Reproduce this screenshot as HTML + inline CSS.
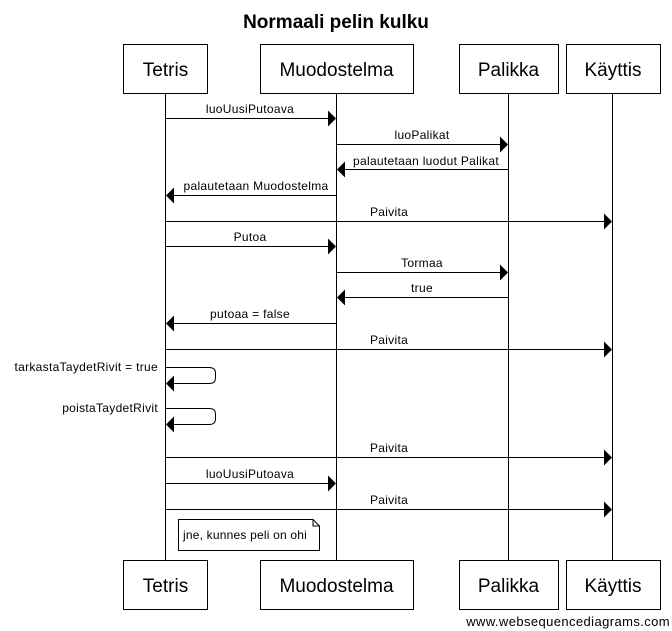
<!DOCTYPE html>
<html><head><meta charset="utf-8"><style>body{margin:0;background:#fff}svg{display:block}</style></head><body>
<svg width="672" height="631" xmlns="http://www.w3.org/2000/svg" font-family="Liberation Sans, Arial, sans-serif">
<rect width="672" height="631" fill="#fff"/>
<text x="336" y="28" text-anchor="middle" font-size="19" font-weight="bold">Normaali pelin kulku</text>
<g stroke="#000" stroke-width="1" fill="#fff">
<line x1="165.5" y1="94" x2="165.5" y2="560"/>
<line x1="336.5" y1="94" x2="336.5" y2="560"/>
<line x1="508.5" y1="94" x2="508.5" y2="560"/>
<line x1="612.5" y1="94" x2="612.5" y2="560"/>
<rect x="123.5" y="44.5" width="84" height="49"/>
<rect x="260.5" y="44.5" width="153" height="49"/>
<rect x="459.5" y="44.5" width="99" height="49"/>
<rect x="566.5" y="44.5" width="94" height="49"/>
<rect x="123.5" y="560.5" width="84" height="49"/>
<rect x="260.5" y="560.5" width="153" height="49"/>
<rect x="459.5" y="560.5" width="99" height="49"/>
<rect x="566.5" y="560.5" width="94" height="49"/>
</g>
<g font-size="19" text-anchor="middle">
<text x="165.5" y="76">Tetris</text><text x="336.5" y="76">Muodostelma</text><text x="508.5" y="76">Palikka</text><text x="613" y="76">Käyttis</text>
<text x="165.5" y="592">Tetris</text><text x="336.5" y="592">Muodostelma</text><text x="508.5" y="592">Palikka</text><text x="613" y="592">Käyttis</text>
</g>
<g stroke="#000" fill="none">
<line x1="165" y1="118.5" x2="329" y2="118.5"/>
<line x1="337" y1="144.5" x2="501" y2="144.5"/>
<line x1="344" y1="169.5" x2="508" y2="169.5"/>
<line x1="173" y1="195.5" x2="336" y2="195.5"/>
<line x1="165" y1="221.5" x2="605" y2="221.5"/>
<line x1="165" y1="246.5" x2="329" y2="246.5"/>
<line x1="337" y1="272.5" x2="501" y2="272.5"/>
<line x1="344" y1="297.5" x2="508" y2="297.5"/>
<line x1="173" y1="323.5" x2="336" y2="323.5"/>
<line x1="165" y1="349.5" x2="605" y2="349.5"/>
<path d="M165 367.5 H209 Q215.5 367.5 215.5 373 V378 Q215.5 383.5 209 383.5 H173"/>
<path d="M165 408.5 H209 Q215.5 408.5 215.5 414 V419 Q215.5 424.5 209 424.5 H173"/>
<line x1="165" y1="457.5" x2="605" y2="457.5"/>
<line x1="165" y1="483.5" x2="329" y2="483.5"/>
<line x1="165" y1="509.5" x2="605" y2="509.5"/>
</g>
<g fill="#000">
<path d="M328 110.5 L336 118.5 L328 126.5Z"/>
<path d="M500 136.5 L508 144.5 L500 152.5Z"/>
<path d="M345 161.5 L337 169.5 L345 177.5Z"/>
<path d="M174 187.5 L166 195.5 L174 203.5Z"/>
<path d="M604 213.5 L612 221.5 L604 229.5Z"/>
<path d="M328 238.5 L336 246.5 L328 254.5Z"/>
<path d="M500 264.5 L508 272.5 L500 280.5Z"/>
<path d="M345 289.5 L337 297.5 L345 305.5Z"/>
<path d="M174 315.5 L166 323.5 L174 331.5Z"/>
<path d="M604 341.5 L612 349.5 L604 357.5Z"/>
<path d="M174 375.5 L166 383.5 L174 391.5Z"/>
<path d="M174 416.5 L166 424.5 L174 432.5Z"/>
<path d="M604 449.5 L612 457.5 L604 465.5Z"/>
<path d="M328 475.5 L336 483.5 L328 491.5Z"/>
<path d="M604 501.5 L612 509.5 L604 517.5Z"/>
</g>
<g font-size="12" letter-spacing="0.3" text-anchor="middle">
<text x="250" y="113">luoUusiPutoava</text>
<text x="422" y="139">luoPalikat</text>
<text x="426" y="165">palautetaan luodut Palikat</text>
<text x="256" y="190">palautetaan Muodostelma</text>
<text x="389" y="216">Paivita</text>
<text x="250" y="241">Putoa</text>
<text x="422" y="267">Tormaa</text>
<text x="422" y="292">true</text>
<text x="250" y="318">putoaa = false</text>
<text x="389" y="344">Paivita</text>
<text x="389" y="452">Paivita</text>
<text x="250" y="478">luoUusiPutoava</text>
<text x="389" y="504">Paivita</text>
</g>
<g font-size="12" letter-spacing="0.3" text-anchor="end">
<text x="158" y="371">tarkastaTaydetRivit = true</text>
<text x="158" y="412">poistaTaydetRivit</text>
</g>
<path d="M178.5 519.5 H313 L319.5 526 V550.5 H178.5Z" fill="#fff" stroke="#000"/>
<path d="M313 519.5 V526 H319.5" fill="none" stroke="#000"/>
<text x="183" y="539" font-size="12" letter-spacing="0.2">jne, kunnes peli on ohi</text>
<text x="670" y="626" font-size="13" letter-spacing="0.4" text-anchor="end">www.websequencediagrams.com</text>
</svg>
</body></html>
